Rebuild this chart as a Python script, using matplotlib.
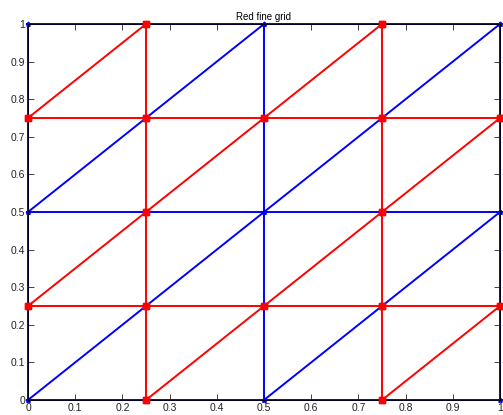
import matplotlib
matplotlib.use("Agg")
import matplotlib.pyplot as plt
import numpy as np

plt.rcParams["font.family"] = ["Liberation Sans", "DejaVu Sans"]

# coarse (blue) mesh edges as polylines
blue_x = [
    [0, 0.5, 1], [0, 0.5, 1], [0, 0.5, 1],      # horizontals
    [0, 0, 0], [0.5, 0.5, 0.5], [1, 1, 1],      # verticals
    [0, 0.5], [0, 0.5, 1], [0.5, 1],            # diagonals
]
blue_y = [
    [0, 0, 0], [0.5, 0.5, 0.5], [1, 1, 1],
    [0, 0.5, 1], [0, 0.5, 1], [0, 0.5, 1],
    [0.5, 1], [0, 0.5, 1], [0, 0.5],
]

# fine (red) mesh edges as polylines
red_x = [
    [0, 0.25, 0.5, 0.75, 1], [0, 0.25, 0.5, 0.75, 1],
    [0.25, 0.25, 0.25, 0.25, 0.25], [0.75, 0.75, 0.75, 0.75, 0.75],
    [0, 0.25], [0, 0.25, 0.5, 0.75], [0.25, 0.5, 0.75, 1], [0.75, 1],
]
red_y = [
    [0.25, 0.25, 0.25, 0.25, 0.25], [0.75, 0.75, 0.75, 0.75, 0.75],
    [0, 0.25, 0.5, 0.75, 1], [0, 0.25, 0.5, 0.75, 1],
    [0.75, 1], [0.25, 0.5, 0.75, 1], [0, 0.25, 0.5, 0.75], [0, 0.25],
]

xticks = np.round(np.arange(0, 1.01, 0.1), 1)
yticks = np.round(np.arange(0, 1.01, 0.1), 1)

fig = plt.figure(figsize=(5.03, 4.15), dpi=100)
ax = fig.add_axes([28 / 503, 15 / 415, 472 / 503, 376 / 415])

for xs, ys in zip(blue_x, blue_y):
    ax.plot(xs, ys, color="#0000ff", lw=1.4, marker="*", ms=3.5,
            clip_on=False, zorder=2)
for xs, ys in zip(red_x, red_y):
    ax.plot(xs, ys, color="#ff0000", lw=1.4, marker="s", ms=4,
            clip_on=False, zorder=3)

ax.set_xlim(0, 1)
ax.set_ylim(0, 1)
ax.set_xticks(xticks)
ax.set_yticks(yticks)
ax.set_xticklabels([f"{t:g}" for t in xticks])
ax.set_yticklabels([f"{t:g}" for t in yticks])
ax.tick_params(direction="in", length=4, width=0.6, labelsize=7.5,
               top=True, right=True, pad=2, colors="#222222")
for s in ax.spines.values():
    s.set_linewidth(0.6)
ax.set_title("Red fine grid", fontsize=7, pad=3)

fig.savefig("out.png", dpi=100)
